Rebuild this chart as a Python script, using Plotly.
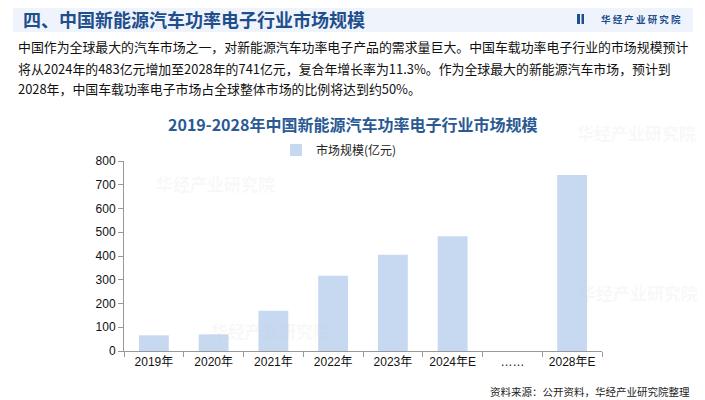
import plotly.graph_objects as go

categories = ["2019年", "2020年", "2021年", "2022年", "2023年", "2024年E", "……", "2028年E"]
values = [66, 70, 170, 317, 405, 483, None, 741]
series_name = "市场规模(亿元)"
y_ticks = [0, 100, 200, 300, 400, 500, 600, 700, 800]

W, H = 705, 400
OFF = 8  # page body margin offset in the screenshot
# plot area in screenshot pixels: x 124..602, y 161..351
ML = 124 - OFF
MT = 161 - OFF
MR = W - (602 - OFF)
MB = H - (351 - OFF)
PW, PH = W - ML - MR, H - MT - MB

def px(x):
    return (x - OFF - ML) / PW

def py(y):
    return (H - MB - (y - OFF)) / PH

CJK = "Noto Sans CJK SC"
NUM = "Liberation Sans, Arial, sans-serif"

fig = go.Figure()
fig.add_trace(go.Bar(
    x=categories, y=values, name=series_name,
    marker=dict(color="#c6d9f1", line=dict(width=0)),
    hoverinfo="x+y",
))

shapes = [
    dict(type="rect", xref="paper", yref="paper",
         x0=px(13), x1=px(693), y0=py(32), y1=py(5),
         fillcolor="#eff4fc", line=dict(width=0), layer="below"),
    dict(type="rect", xref="paper", yref="paper",
         x0=px(577), x1=px(580), y0=py(24), y1=py(14),
         fillcolor="#1f4e8c", line=dict(width=0)),
    dict(type="rect", xref="paper", yref="paper",
         x0=px(581.5), x1=px(584), y0=py(24), y1=py(14),
         fillcolor="#1f4e8c", line=dict(width=0)),
]

para = [
    "中国作为全球最大的汽车市场之一，对新能源汽车功率电子产品的需求量巨大。中国车载功率电子行业的市场规模预计",
    "将从2024年的483亿元增加至2028年的741亿元，复合年增长率为11.3%。作为全球最大的新能源汽车市场，预计到",
    "2028年，中国车载功率电子市场占全球整体市场的比例将达到约50%。",
]
para_y = [47, 68, 89]

def ann(text, x, y, xanchor, size, color, family=CJK):
    return dict(text=text, xref="paper", yref="paper", x=px(x), y=py(y),
                xanchor=xanchor, yanchor="middle", showarrow=False,
                font=dict(family=family, size=size, color=color))

annotations = []
# faint watermarks (drawn first, below other text)
for wx, wy in [(215, 183), (270, 330), (638, 292), (636, 132)]:
    annotations.append(ann("<b>华经产业研究院</b>", wx, wy, "center", 17, "rgba(200,200,200,0.13)"))

annotations += [
    ann("<b>四、中国新能源汽车功率电子行业市场规模</b>", 21, 19, "left", 18, "#1f4e8c"),
    ann("<b>华 经 产 业 研 究 院</b>", 683, 19, "right", 9.5, "#1f4e8c"),
    ann("<b>2019-2028年中国新能源汽车功率电子行业市场规模</b>", 352, 124, "center", 16, "#2a5a93"),
    ann("资料来源：公开资料，华经产业研究院整理", 692, 391, "right", 10.5, "#222222"),
]
for t, yy in zip(para, para_y):
    annotations.append(ann(t, 16, yy, "left", 12.9, "#111111"))

fig.update_layout(
    width=W, height=H,
    margin=dict(l=ML, r=MR, t=MT, b=MB),
    paper_bgcolor="white", plot_bgcolor="white",
    bargap=0.5,
    showlegend=True,
    legend=dict(x=px(276), y=py(150), xanchor="left", yanchor="middle",
                orientation="h", bgcolor="rgba(0,0,0,0)",
                font=dict(family=CJK, size=12, color="#222222")),
    xaxis=dict(type="category", showline=True, linecolor="#999999", linewidth=1,
               ticks="outside", tickson="boundaries", ticklen=5, tickcolor="#999999",
               showgrid=False, tickangle=0,
               tickfont=dict(family=NUM + ", " + CJK, size=12, color="#111111")),
    yaxis=dict(range=[0, 800], tickvals=y_ticks, showline=True, linecolor="#999999", linewidth=1,
               ticks="outside", ticklen=5, tickcolor="#999999", showgrid=False, zeroline=False,
               tickfont=dict(family=NUM, size=12, color="#111111")),
    shapes=shapes,
    annotations=annotations,
)

fig.write_html("out.html")
